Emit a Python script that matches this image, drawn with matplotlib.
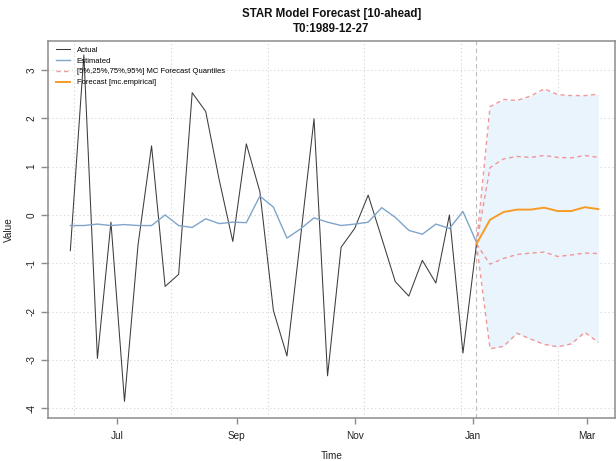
import numpy as np
import matplotlib
matplotlib.use("Agg")
import matplotlib.pyplot as plt
import matplotlib.dates as mdates

plt.rcParams['font.family'] = ['Liberation Sans', 'DejaVu Sans']

# weekly observations, last one is the forecast origin
actual_dates = np.arange(np.datetime64('1989-06-07'), np.datetime64('1990-01-04'), np.timedelta64(7, 'D'))
actual = [-0.74, 3.31, -2.97, -0.15, -3.86, -0.62, 1.43, -1.48, -1.23, 2.53,
          2.14, 0.72, -0.55, 1.47, 0.48, -1.98, -2.92, -0.48, 1.99, -3.33,
          -0.67, -0.28, 0.41, -0.48, -1.38, -1.68, -0.94, -1.41, 0.00, -2.86,
          -0.60]
estimated = [-0.22, -0.22, -0.19, -0.22, -0.20, -0.22, -0.22, 0.00, -0.22, -0.26,
             -0.08, -0.18, -0.15, -0.16, 0.39, 0.16, -0.48, -0.29, -0.06, -0.15,
             -0.22, -0.19, -0.15, 0.15, -0.05, -0.32, -0.40, -0.19, -0.28, 0.07,
             -0.57]

fc_dates = np.arange(np.datetime64('1990-01-03'), np.datetime64('1990-03-08'), np.timedelta64(7, 'D'))
forecast = [-0.60, -0.10, 0.06, 0.11, 0.11, 0.15, 0.08, 0.08, 0.16, 0.12]
q95 = [-0.60, 2.24, 2.39, 2.37, 2.46, 2.61, 2.49, 2.47, 2.47, 2.50]
q75 = [-0.60, 0.98, 1.16, 1.21, 1.19, 1.23, 1.19, 1.18, 1.23, 1.19]
q25 = [-0.60, -1.02, -0.90, -0.82, -0.79, -0.77, -0.86, -0.83, -0.79, -0.80]
q05 = [-0.60, -2.77, -2.72, -2.45, -2.57, -2.68, -2.73, -2.67, -2.43, -2.64]

t0 = np.datetime64('1990-01-03')
grid_dates = np.array(['1989-06-09', '1989-07-29', '1989-09-17', '1989-11-06',
                       '1989-12-26', '1990-02-14'], dtype='datetime64[D]')
month_ticks = np.array(['1989-07-01', '1989-09-01', '1989-11-01', '1990-01-01',
                        '1990-03-01'], dtype='datetime64[D]')
month_labels = ['Jul', 'Sep', 'Nov', 'Jan', 'Mar']

fig = plt.figure(figsize=(6.16, 4.61), dpi=100)
ax = fig.add_axes([0.0787, 0.0926, 0.919, 0.8185])

for y in range(-4, 4):
    ax.axhline(y, color='#d3d3d3', lw=0.8, ls=(0, (1, 2.5)), zorder=0)
for g in grid_dates:
    ax.axvline(g, color='#d3d3d3', lw=0.8, ls=(0, (1, 2.5)), zorder=0)
ax.axvline(t0, color='#bdbdbd', lw=0.8, ls=(0, (4, 3)), zorder=1)

ax.fill_between(fc_dates, q05, q95, color='#eaf4fd', lw=0, zorder=1)

ax.plot(actual_dates, actual, color='#3c3c3c', lw=0.75, label='Actual', zorder=3)
ax.plot(actual_dates, estimated, color='#7fa5cb', lw=1.0, label='Estimated', zorder=3)
qcol = '#f08080'
ax.plot(fc_dates, q95, color=qcol, lw=1.0, ls=(0, (3, 2.5)), alpha=0.8,
        label='[5%,25%,75%,95%] MC Forecast Quantiles', zorder=2)
ax.plot(fc_dates, q75, color=qcol, lw=1.0, ls=(0, (3, 2.5)), alpha=0.8, zorder=2)
ax.plot(fc_dates, q25, color=qcol, lw=1.0, ls=(0, (3, 2.5)), alpha=0.8, zorder=2)
ax.plot(fc_dates, q05, color=qcol, lw=1.0, ls=(0, (3, 2.5)), alpha=0.8, zorder=2)
ax.plot(fc_dates, forecast, color='#f79b25', lw=1.4, label='Forecast [mc.empirical]', zorder=4)

x0 = mdates.date2num(np.datetime64('1989-05-26')) + 0.7
ax.set_xlim(x0, x0 + 292.7)
ax.set_ylim(-4.21, 3.60)
ax.set_xticks(month_ticks)
ax.set_xticklabels(month_labels)
ax.set_yticks(range(-4, 4))
ax.set_yticklabels([str(v) for v in range(-4, 4)], rotation=90, va='center')

for s in ax.spines.values():
    s.set_color('#8c8c8c')
    s.set_linewidth(1.1)
ax.tick_params(axis='both', colors='#8c8c8c', labelcolor='#222222', labelsize=7.2, width=1.0)
ax.tick_params(axis='x', length=4, pad=5)
ax.tick_params(axis='y', length=5, pad=3.5)

ax.set_xlabel('Time', fontsize=7.2, color='#222222', labelpad=7)
ax.set_ylabel('Value', fontsize=7.2, color='#222222', labelpad=9)

xc = 0.0787 + 0.919 / 2
fig.text(xc, 1 - 14.5 / 461, 'STAR Model Forecast [10-ahead]', ha='center', va='center',
         fontsize=8.3, fontweight='bold', color='#111111')
fig.text(xc, 1 - 29.5 / 461, 'T0:1989-12-27', ha='center', va='center',
         fontsize=8.3, fontweight='bold', color='#111111')

ax.legend(loc='upper left', bbox_to_anchor=(0.0133, 0.9854), borderaxespad=0, borderpad=0,
          frameon=False, fontsize=5.5, handlelength=1.8, handletextpad=0.9, labelspacing=0.45)

fig.savefig('out.png', dpi=100)
